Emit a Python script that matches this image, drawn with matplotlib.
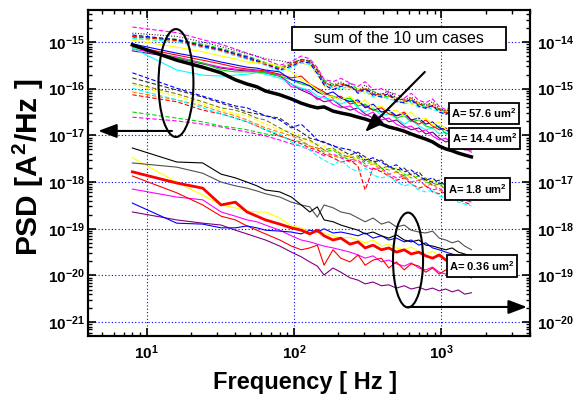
import numpy as np
import matplotlib.pyplot as plt
from matplotlib.patches import Ellipse, Rectangle
from matplotlib.ticker import LogLocator, NullFormatter

plt.rcParams['font.family'] = ['Liberation Sans', 'DejaVu Sans']
plt.rcParams['font.weight'] = 'bold'
plt.rcParams['mathtext.fontset'] = 'custom'
plt.rcParams['mathtext.rm'] = 'Liberation Sans:bold'
plt.rcParams['mathtext.bf'] = 'Liberation Sans:bold'

# frequency grid [Hz]
freq = [8, 16, 24, 32, 40, 48, 56, 64, 80, 96, 112, 128, 144, 160, 184, 208, 240, 272,
        304, 344, 392, 440, 496, 560, 624, 704, 784, 872, 968, 1072, 1184, 1304, 1440, 1600]

# all values are log10(PSD) on the left axis scale
# --- A = 57.6 um^2 (dashed) ---
a576_magenta = [-14.68, -14.80, -14.95, -15.05, -15.15, -15.24, -15.31, -15.38, -15.50, -15.42, -15.30, -15.36, -15.55, -15.80, -15.85, -15.78, -15.88, -15.95, -15.85, -16.02, -16.00, -16.08, -16.12, -16.20, -16.10, -16.25, -16.30, -16.22, -16.38, -16.45, -16.36, -16.50, -16.55, -16.58]
a576_gray = [-14.81, -14.88, -15.00, -15.10, -15.18, -15.25, -15.30, -15.36, -15.40, -15.45, -15.38, -15.40, -15.62, -15.88, -15.92, -15.86, -15.95, -16.05, -15.92, -16.08, -16.12, -16.05, -16.20, -16.24, -16.18, -16.30, -16.36, -16.28, -16.42, -16.48, -16.40, -16.55, -16.60, -16.64]
a576_blue = [-14.85, -14.95, -15.08, -15.16, -15.25, -15.32, -15.40, -15.46, -15.60, -15.52, -15.42, -15.45, -15.68, -15.92, -16.02, -15.95, -15.92, -16.10, -16.00, -16.12, -16.18, -16.10, -16.28, -16.30, -16.22, -16.38, -16.42, -16.36, -16.50, -16.55, -16.48, -16.62, -16.66, -16.70]
a576_red = [-14.88, -14.97, -15.10, -15.18, -15.27, -15.35, -15.42, -15.48, -15.58, -15.48, -15.38, -15.42, -15.60, -15.85, -15.96, -15.90, -15.96, -16.06, -16.00, -16.15, -16.10, -16.15, -16.25, -16.22, -16.28, -16.32, -16.40, -16.38, -16.45, -16.52, -16.50, -16.58, -16.64, -16.68]
a576_green = [-14.90, -14.94, -15.05, -15.14, -15.22, -15.30, -15.37, -15.44, -15.55, -15.45, -15.37, -15.40, -15.58, -15.82, -15.90, -15.95, -15.88, -16.02, -16.05, -16.05, -16.15, -16.18, -16.18, -16.28, -16.25, -16.35, -16.32, -16.40, -16.42, -16.50, -16.52, -16.55, -16.62, -16.66]
a576_cyan = [-14.92, -15.00, -15.12, -15.20, -15.30, -15.37, -15.44, -15.50, -15.62, -15.55, -15.45, -15.48, -15.65, -15.90, -15.98, -16.00, -15.95, -16.08, -16.05, -16.18, -16.16, -16.22, -16.26, -16.32, -16.30, -16.40, -16.38, -16.45, -16.48, -16.55, -16.52, -16.60, -16.68, -16.72]
a576_yellow = [-14.94, -14.98, -15.06, -15.15, -15.24, -15.33, -15.40, -15.45, -15.52, -15.50, -15.45, -15.50, -15.72, -15.95, -15.92, -16.00, -16.02, -16.00, -16.10, -16.12, -16.20, -16.15, -16.28, -16.26, -16.34, -16.30, -16.42, -16.40, -16.46, -16.52, -16.56, -16.54, -16.64, -16.70]
a576_orange = [-14.87, -14.96, -15.07, -15.17, -15.26, -15.33, -15.40, -15.47, -15.56, -15.50, -15.40, -15.44, -15.62, -15.88, -15.94, -15.88, -15.98, -16.04, -15.98, -16.10, -16.14, -16.12, -16.22, -16.26, -16.20, -16.34, -16.36, -16.32, -16.44, -16.48, -16.44, -16.56, -16.60, -16.65]

# --- A = 14.4 um^2 (solid) ---
a144_yellow = [-14.96, -15.11, -15.21, -15.30, -15.36, -15.43, -15.45, -15.45, -15.51, -15.64, -15.81, -15.90, -16.03, -16.13, -16.18, -16.24, -16.16, -16.33, -16.24, -16.41, -16.37, -16.50, -16.46, -16.58, -16.50, -16.67, -16.63, -16.78, -16.71, -16.88, -16.84, -16.97, -16.99, -17.10]
a144_blue = [-15.04, -15.24, -15.34, -15.43, -15.49, -15.54, -15.56, -15.60, -15.64, -15.81, -15.86, -15.94, -16.07, -16.13, -16.07, -16.20, -16.28, -16.24, -16.41, -16.33, -16.50, -16.46, -16.58, -16.54, -16.67, -16.63, -16.76, -16.71, -16.84, -16.88, -16.97, -17.01, -17.10, -17.21]
a144_red = [-15.09, -15.28, -15.39, -15.47, -15.54, -15.58, -15.60, -15.62, -15.69, -15.77, -15.73, -15.90, -15.99, -16.07, -16.20, -16.16, -16.33, -16.28, -16.37, -16.46, -16.41, -16.54, -16.58, -16.50, -16.67, -16.76, -16.67, -16.80, -16.88, -16.84, -16.97, -17.06, -17.01, -17.14]
a144_green = [-15.11, -15.34, -15.45, -15.60, -15.64, -15.64, -15.64, -15.66, -15.73, -15.81, -15.90, -15.94, -16.03, -16.11, -16.16, -16.24, -16.20, -16.37, -16.33, -16.46, -16.50, -16.46, -16.63, -16.58, -16.71, -16.67, -16.80, -16.84, -16.80, -16.97, -16.93, -17.06, -17.10, -17.23]
a144_cyan = [-15.13, -15.60, -15.71, -15.73, -15.71, -15.69, -15.66, -15.69, -15.77, -15.90, -15.99, -16.03, -16.16, -16.20, -16.24, -16.33, -16.24, -16.41, -16.50, -16.41, -16.58, -16.54, -16.63, -16.76, -16.67, -16.80, -16.88, -16.84, -16.97, -16.93, -17.06, -17.14, -17.10, -17.27]
a144_magenta = [-15.15, -15.32, -15.45, -15.54, -15.58, -15.60, -15.62, -15.64, -15.71, -15.96, -15.99, -16.07, -16.24, -16.16, -16.33, -16.41, -16.37, -16.50, -16.58, -16.50, -16.67, -16.63, -16.76, -16.84, -16.80, -16.93, -16.88, -17.01, -17.10, -17.06, -17.18, -17.23, -17.27, -17.36]
a144_purple = [-15.19, -15.34, -15.47, -15.56, -15.60, -15.62, -15.64, -15.66, -15.73, -15.90, -16.03, -16.11, -16.20, -16.28, -16.24, -16.37, -16.46, -16.41, -16.54, -16.63, -16.58, -16.71, -16.67, -16.80, -16.88, -16.84, -16.97, -16.93, -17.06, -17.14, -17.10, -17.23, -17.31, -17.31]

# sum of the 10 um cases
sum_10um = [-15.06, -15.39, -15.54, -15.66, -15.81, -15.90, -15.96, -16.05, -16.13, -16.22, -16.31, -16.37, -16.41, -16.39, -16.48, -16.52, -16.56, -16.61, -16.65, -16.71, -16.76, -16.82, -16.86, -16.91, -16.97, -17.03, -17.08, -17.14, -17.23, -17.29, -17.33, -17.38, -17.42, -17.46]

# --- A = 1.8 um^2 (dashed) ---
a18_blue = [-15.66, -15.99, -16.16, -16.28, -16.37, -16.41, -16.50, -16.58, -16.67, -16.84, -16.76, -16.93, -17.10, -17.14, -17.23, -17.27, -17.31, -17.40, -17.53, -17.48, -17.57, -17.68, -17.63, -17.78, -17.74, -17.87, -17.96, -17.91, -18.04, -18.00, -18.13, -18.21, -18.17, -18.28]
a18_gray = [-15.77, -16.03, -16.18, -16.31, -16.41, -16.50, -16.54, -16.58, -16.63, -16.80, -16.93, -17.06, -17.10, -17.16, -17.21, -17.31, -17.42, -17.36, -17.46, -17.57, -17.53, -17.66, -17.74, -17.70, -17.85, -17.78, -17.96, -18.00, -17.96, -18.08, -18.17, -18.13, -18.25, -18.30]
a18_olive = [-15.88, -16.11, -16.28, -16.41, -16.46, -16.54, -16.63, -16.67, -16.84, -16.97, -17.06, -17.10, -17.21, -17.31, -17.27, -17.40, -17.48, -17.44, -17.57, -17.53, -17.70, -17.66, -17.78, -17.87, -17.83, -17.96, -17.91, -18.08, -18.04, -18.17, -18.13, -18.25, -18.30, -18.34]
a18_yellow = [-15.92, -16.16, -16.33, -16.46, -16.54, -16.58, -16.67, -16.76, -16.88, -16.93, -17.01, -17.14, -17.18, -17.23, -17.31, -17.36, -17.44, -17.53, -17.48, -17.61, -17.66, -17.74, -17.70, -17.83, -17.91, -17.87, -18.00, -17.96, -18.08, -18.13, -18.08, -18.21, -18.25, -18.30]
a18_cyan = [-15.99, -16.24, -16.41, -16.54, -16.63, -16.71, -16.80, -16.88, -16.97, -17.14, -17.23, -17.31, -17.44, -17.53, -17.63, -17.53, -17.70, -17.78, -17.70, -17.85, -17.91, -17.87, -18.00, -18.08, -18.04, -18.17, -18.21, -18.17, -18.30, -18.34, -18.30, -18.43, -18.47, -18.51]
a18_orange = [-16.07, -16.24, -16.37, -16.50, -16.58, -16.67, -16.76, -16.84, -16.93, -17.01, -17.10, -17.23, -17.27, -17.31, -17.44, -17.48, -17.44, -17.57, -17.66, -17.61, -17.74, -17.83, -17.78, -17.91, -18.00, -17.96, -18.08, -18.04, -18.17, -18.25, -18.21, -18.34, -18.30, -18.38]
a18_red = [-16.13, -16.28, -16.46, -16.54, -16.63, -16.71, -16.80, -16.88, -17.01, -17.10, -17.18, -17.27, -17.31, -17.40, -17.48, -17.57, -17.53, -17.66, -18.17, -17.70, -17.78, -17.87, -17.96, -17.91, -18.04, -18.13, -18.08, -18.21, -18.25, -18.21, -18.34, -18.38, -18.43, -18.49]
a18_green = [-16.50, -16.63, -16.71, -16.80, -16.84, -16.88, -16.93, -16.97, -17.01, -17.10, -17.14, -17.23, -17.27, -17.36, -17.31, -17.44, -17.53, -17.48, -17.61, -17.57, -17.70, -17.74, -17.70, -17.83, -17.91, -17.87, -18.00, -18.04, -18.00, -18.13, -18.21, -18.17, -18.30, -18.34]
a18_magenta = [-16.61, -16.69, -16.76, -16.82, -16.88, -16.93, -16.97, -17.01, -17.10, -17.18, -17.23, -17.31, -17.36, -17.44, -17.40, -17.48, -17.57, -17.53, -17.66, -17.74, -17.70, -17.83, -17.91, -17.87, -18.00, -17.96, -18.08, -18.17, -18.13, -18.25, -18.30, -18.25, -18.38, -18.43]

# --- A = 0.36 um^2 (solid) ---
a036_black = [-17.27, -17.57, -17.59, -17.83, -17.91, -18.00, -18.08, -18.17, -18.21, -18.32, -18.49, -18.64, -18.53, -18.81, -18.85, -18.92, -18.98, -19.03, -19.11, -19.07, -19.15, -19.20, -19.13, -19.24, -19.28, -19.24, -19.35, -19.37, -19.41, -19.45, -19.41, -19.50, -19.54, -19.58]
a036_gray = [-17.59, -17.68, -17.81, -18.00, -18.08, -18.13, -18.19, -18.25, -18.32, -18.43, -18.49, -18.53, -18.75, -18.49, -18.55, -18.64, -18.68, -18.77, -18.85, -18.77, -18.90, -18.85, -18.96, -18.92, -19.03, -19.07, -19.09, -19.05, -19.20, -19.24, -19.30, -19.26, -19.37, -19.45]
a036_yellow = [-17.48, -18.00, -18.28, -18.49, -18.55, -18.62, -18.64, -18.64, -18.77, -18.94, -18.98, -19.07, -19.11, -19.09, -19.15, -19.20, -19.18, -19.24, -19.30, -19.24, -19.37, -19.33, -19.41, -19.45, -19.39, -19.50, -19.54, -19.48, -19.58, -19.63, -19.56, -19.67, -19.63, -19.71]
a036_red_thick = [-17.78, -18.02, -18.13, -18.49, -18.43, -18.64, -18.73, -18.81, -18.90, -18.98, -19.03, -19.11, -19.03, -19.15, -19.24, -19.20, -19.33, -19.28, -19.41, -19.35, -19.45, -19.41, -19.50, -19.45, -19.54, -19.50, -19.58, -19.63, -19.56, -19.67, -19.71, -19.67, -19.78, -19.82]
a036_red = [-17.87, -18.23, -18.49, -18.73, -18.81, -18.94, -19.03, -19.11, -19.24, -19.37, -19.45, -19.41, -19.35, -19.78, -19.45, -19.63, -19.71, -19.56, -19.78, -19.67, -19.63, -19.84, -19.71, -19.88, -19.75, -19.80, -19.93, -19.84, -19.97, -19.88, -20.01, -19.93, -19.97, -20.05]
a036_magenta = [-18.15, -18.32, -18.38, -18.64, -18.73, -18.81, -18.85, -18.92, -19.03, -19.15, -19.24, -19.28, -19.33, -19.37, -19.41, -19.45, -19.50, -19.56, -19.63, -19.58, -19.71, -19.67, -19.75, -19.80, -19.73, -19.84, -19.88, -19.82, -19.93, -19.97, -19.90, -20.01, -19.99, -20.05]
a036_blue = [-18.45, -18.88, -18.90, -18.98, -18.98, -18.94, -18.98, -19.03, -19.05, -19.07, -19.11, -19.03, -19.07, -19.00, -19.09, -19.07, -19.11, -19.15, -19.09, -19.20, -19.15, -19.24, -19.20, -19.28, -19.24, -19.35, -19.30, -19.41, -19.45, -19.50, -19.54, -19.58, -19.63, -19.67]
a036_purple = [-18.64, -18.81, -18.88, -18.92, -19.03, -19.11, -19.18, -19.24, -19.37, -19.50, -19.60, -19.71, -19.80, -19.99, -19.84, -19.93, -20.05, -20.10, -20.18, -20.14, -20.22, -20.20, -20.27, -20.22, -20.29, -20.25, -20.31, -20.27, -20.33, -20.29, -20.35, -20.31, -20.40, -20.37]

left_ticks = [1e-21, 1e-20, 1e-19, 1e-18, 1e-17, 1e-16, 1e-15]
left_labels = [r'$\mathbf{10^{-21}}$', r'$\mathbf{10^{-20}}$', r'$\mathbf{10^{-19}}$', r'$\mathbf{10^{-18}}$',
               r'$\mathbf{10^{-17}}$', r'$\mathbf{10^{-16}}$', r'$\mathbf{10^{-15}}$']
right_ticks = [1e-20, 1e-19, 1e-18, 1e-17, 1e-16, 1e-15, 1e-14]
right_labels = [r'$\mathbf{10^{-20}}$', r'$\mathbf{10^{-19}}$', r'$\mathbf{10^{-18}}$', r'$\mathbf{10^{-17}}$',
                r'$\mathbf{10^{-16}}$', r'$\mathbf{10^{-15}}$', r'$\mathbf{10^{-14}}$']
x_ticks = [10, 100, 1000]
x_labels = [r'$\mathbf{10^{1}}$', r'$\mathbf{10^{2}}$', r'$\mathbf{10^{3}}$']

DASH = (0, (4, 2))
DOT = (0, (1, 1.5))

fig = plt.figure(figsize=(5.76, 4.05), dpi=100)
ax = fig.add_axes([0.1528, 0.1704, 0.7674, 0.8049])

def draw(vals, color, ls='-', lw=0.8, z=2):
    ax.plot(freq, 10.0 ** np.array(vals), color=color, linestyle=ls, linewidth=lw, zorder=z)

# A = 57.6 group
for vals, col in [(a576_yellow, '#ffff00'), (a576_orange, '#ff8000'), (a576_cyan, '#00ffff'),
                  (a576_green, '#00dd00'), (a576_red, '#ff0000'), (a576_blue, '#0000ff'),
                  (a576_magenta, '#ff00ff')]:
    draw(vals, col, DASH)
draw(a576_gray, '#303030', DOT)

# A = 14.4 group
for vals, col in [(a144_purple, '#800080'), (a144_magenta, '#ff00ff'), (a144_cyan, '#00ffff'),
                  (a144_green, '#00dd00'), (a144_red, '#ff0000'), (a144_blue, '#0000ff'),
                  (a144_yellow, '#ffff00')]:
    draw(vals, col)
draw(sum_10um, 'black', '-', 2.5, 3)

# A = 1.8 group
for vals, col in [(a18_magenta, '#ff00ff'), (a18_green, '#00dd00'), (a18_red, '#ff0000'),
                  (a18_orange, '#ff8000'), (a18_cyan, '#00ffff'), (a18_yellow, '#ffff00'),
                  (a18_olive, '#808000'), (a18_gray, '#303030'), (a18_blue, '#0000ff')]:
    draw(vals, col, DASH)

# A = 0.36 group
for vals, col in [(a036_purple, '#800080'), (a036_magenta, '#ff00ff'), (a036_red, '#ff0000'),
                  (a036_yellow, '#ffff00'), (a036_blue, '#0000ff'), (a036_gray, '#505050'),
                  (a036_black, '#000000')]:
    draw(vals, col)
draw(a036_red_thick, '#ff0000', '-', 2.0, 3)

ax.set_xscale('log')
ax.set_yscale('log')
ax.set_xlim(4, 4000)
ax.set_ylim(5.06e-22, 4.84e-15)
ax.set_xticks(x_ticks, labels=x_labels)
ax.set_yticks(left_ticks, labels=left_labels)
ax.xaxis.set_minor_locator(LogLocator(base=10, subs=np.arange(2, 10), numticks=50))
ax.yaxis.set_minor_locator(LogLocator(base=10, subs=np.arange(2, 10), numticks=50))
ax.xaxis.set_minor_formatter(NullFormatter())
ax.yaxis.set_minor_formatter(NullFormatter())
ax.grid(True, which='major', color='#0000ff', linestyle=(0, (1, 2)), linewidth=0.8)
ax.set_axisbelow(True)
ax.tick_params(which='both', direction='in', top=True, right=False, labelsize=11)
ax.tick_params(which='major', length=6, width=1.2)
ax.tick_params(which='minor', length=3, width=1)
ax.tick_params(axis='y', pad=2)
ax.tick_params(axis='x', pad=5)
for sp in ax.spines.values():
    sp.set_linewidth(1.5)

ax2 = ax.twinx()
ax2.set_yscale('log')
ax2.set_ylim(5.06e-21, 4.84e-14)
ax2.set_yticks(right_ticks, labels=right_labels)
ax2.yaxis.set_minor_locator(LogLocator(base=10, subs=np.arange(2, 10), numticks=50))
ax2.yaxis.set_minor_formatter(NullFormatter())
ax2.tick_params(which='both', direction='in', labelsize=11, pad=5)
ax2.tick_params(which='major', length=6, width=1.2)
ax2.tick_params(which='minor', length=3, width=1)
for sp in ax2.spines.values():
    sp.set_linewidth(1.5)

# annotations (axes-fraction coordinates)
ax.add_patch(Ellipse((0.199, 0.776), 0.079, 0.331, transform=ax.transAxes,
                     fill=False, edgecolor='black', linewidth=1.5, zorder=6))
ax.add_patch(Ellipse((0.724, 0.233), 0.068, 0.291, transform=ax.transAxes,
                     fill=False, edgecolor='black', linewidth=1.5, zorder=6))
arrow = dict(arrowstyle='-|>,head_length=0.8,head_width=0.3', color='black', lw=1.5,
             mutation_scale=14, shrinkA=0, shrinkB=0)
ax.annotate('', xy=(0.023, 0.629), xytext=(0.190, 0.629), xycoords='axes fraction',
            arrowprops=arrow, zorder=6)
ax.annotate('', xy=(0.993, 0.089), xytext=(0.724, 0.089), xycoords='axes fraction',
            arrowprops=arrow, zorder=6)
ax.annotate('', xy=(0.627, 0.626), xytext=(0.762, 0.810), xycoords='axes fraction',
            arrowprops=arrow, zorder=6)

# text boxes: (left, top, right, bottom) in pixels of the axes frame
def box(x0, y0, x1, y1, text, size, weight):
    fx0 = (x0 - 88) / 442.0
    fy0 = (336 - y1) / 326.0
    ax.add_patch(Rectangle((fx0, fy0), (x1 - x0) / 442.0, (y1 - y0) / 326.0,
                           transform=ax.transAxes, facecolor='white', edgecolor='black',
                           linewidth=1.3, zorder=7))
    ax.text(((x0 + x1) / 2 - 88) / 442.0, (336 - (y0 + y1) / 2) / 326.0, text,
            transform=ax.transAxes, ha='center', va='center', fontsize=size,
            fontweight=weight, zorder=8)

box(292, 27, 506, 50, 'sum of the 10 um cases', 11.5, 'normal')
box(449, 103, 519, 124, r'A= 57.6 um$^\mathbf{2}$', 8, 'bold')
box(449, 128, 520, 149, r'A= 14.4 um$^\mathbf{2}$', 8, 'bold')
box(445, 178, 510, 200, r'A= 1.8 um$^\mathbf{2}$', 8, 'bold')
box(447, 255, 517, 277, r'A= 0.36 um$^\mathbf{2}$', 8, 'bold')

fig.text(28 / 576.0, 1 - 167 / 405.0, r'PSD [A$^\mathbf{2}$/Hz ]', rotation=90,
         ha='center', va='center', fontsize=21.5, fontweight='bold')
fig.text(305 / 576.0, 1 - 383 / 405.0, 'Frequency [ Hz ]', ha='center', va='center',
         fontsize=17, fontweight='bold')

fig.savefig('out.png', dpi=100)
